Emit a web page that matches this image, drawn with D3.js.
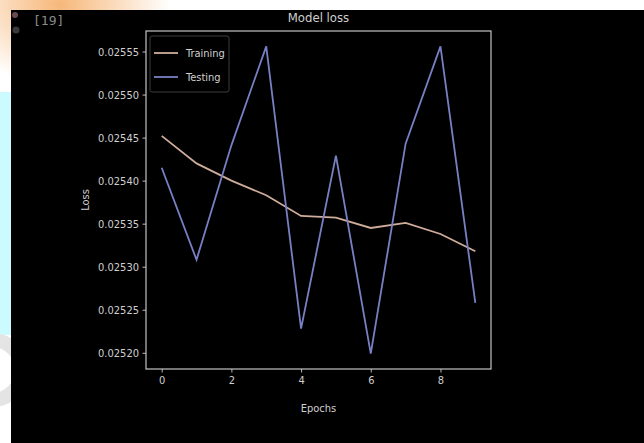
<!DOCTYPE html>
<html>
<head>
<meta charset="utf-8">
<script src="https://cdn.jsdelivr.net/npm/d3@7"></script>
<style>
  html, body { margin: 0; padding: 0; background: #000; }
  svg { display: block; }
  text { font-family: "DejaVu Sans Condensed", "Liberation Sans Narrow", "DejaVu Sans", sans-serif; }
</style>
</head>
<body>
<svg id="chart" width="644" height="443"></svg>
<script>
// ---- data ----
const epochs = [0, 1, 2, 3, 4, 5, 6, 7, 8, 9];
const trainingLoss = [0.025452, 0.025420, 0.025400, 0.025383, 0.025359, 0.025357, 0.025345, 0.025351, 0.025338, 0.025318];
const testingLoss  = [0.025415, 0.025308, 0.025441, 0.025556, 0.025228, 0.025429, 0.025199, 0.025443, 0.025556, 0.025258];
const seriesNames = ["Training", "Testing"];
const xTicks = [0, 2, 4, 6, 8];
const yTicks = [0.02520, 0.02525, 0.02530, 0.02535, 0.02540, 0.02545, 0.02550, 0.02555];
const titleText = "Model loss";
const xLabel = "Epochs";
const yLabel = "Loss";
const cellLabel = "[19]";

// ---- layout ----
const svg = d3.select("#chart");
const W = 644, H = 443;
const plot = { left: 146, right: 491, top: 31, bottom: 369 };
const colors = { Training: "#cfad9b", Testing: "#7880c4" };
const fg = "#cfcfcf";

// notebook surroundings
const defs = svg.append("defs");
const rg = defs.append("radialGradient").attr("id", "orangeBlob").attr("cx", "0.5").attr("cy", "0.5").attr("r", "0.5");
rg.append("stop").attr("offset", "0%").attr("stop-color", "#f6b77a");
rg.append("stop").attr("offset", "100%").attr("stop-color", "#ffffff");
svg.append("rect").attr("x", 0).attr("y", 0).attr("width", W).attr("height", H).attr("fill", "#ffffff");
svg.append("ellipse").attr("cx", 60).attr("cy", 5).attr("rx", 110).attr("ry", 80).attr("fill", "url(#orangeBlob)");
svg.append("rect").attr("x", 0).attr("y", 92).attr("width", 11).attr("height", 243).attr("fill", "#ccfbff");
svg.append("circle").attr("cx", -8).attr("cy", 370).attr("r", 30).attr("fill", "none").attr("stroke", "#e4e4e4").attr("stroke-width", 14);
svg.append("rect").attr("x", 11).attr("y", 10).attr("width", W - 11).attr("height", H - 10).attr("fill", "#000");

// cell prompt
svg.append("circle").attr("cx", 15).attr("cy", 15).attr("r", 3).attr("fill", "#6a4a50");
svg.append("circle").attr("cx", 16).attr("cy", 30).attr("r", 3.5).attr("fill", "#3a3a3a");
svg.append("text").attr("x", 33).attr("y", 25).attr("fill", "#8a8a8a")
  .style("font-family", "'DejaVu Sans Mono', monospace").style("font-size", "13px").text(cellLabel);

// ---- scales ----
const x = d3.scaleLinear().domain([-0.45, 9.45]).range([plot.left, plot.right]);
const all = trainingLoss.concat(testingLoss);
const lo = d3.min(all), hi = d3.max(all), m = (hi - lo) * 0.05;
const y = d3.scaleLinear().domain([lo - m, hi + m]).range([plot.bottom, plot.top]);

// axes
const yAxis = svg.append("g").attr("transform", `translate(${plot.left},0)`)
  .call(d3.axisLeft(y).tickValues(yTicks).tickFormat(d3.format(".5f")).tickSize(3.5).tickPadding(3.5));
const xAxis = svg.append("g").attr("transform", `translate(0,${plot.bottom})`)
  .call(d3.axisBottom(x).tickValues(xTicks).tickFormat(d3.format("d")).tickSize(3.5).tickPadding(3.5));
[xAxis, yAxis].forEach(a => {
  a.select(".domain").remove();
  a.selectAll(".tick line").attr("stroke", fg).attr("stroke-width", 0.9);
  a.selectAll(".tick text").attr("fill", fg).style("font-size", "11px");
});

// lines
const line = d3.line().x((d, i) => x(epochs[i])).y(d => y(d));
svg.append("path").datum(trainingLoss).attr("d", line).attr("fill", "none")
  .attr("stroke", colors.Training).attr("stroke-width", 1.8);
svg.append("path").datum(testingLoss).attr("d", line).attr("fill", "none")
  .attr("stroke", colors.Testing).attr("stroke-width", 1.8);

// frame
svg.append("rect").attr("x", plot.left).attr("y", plot.top)
  .attr("width", plot.right - plot.left).attr("height", plot.bottom - plot.top)
  .attr("fill", "none").attr("stroke", "#c4c4c4").attr("stroke-width", 1.2);

// titles
svg.append("text").attr("x", (plot.left + plot.right) / 2).attr("y", 22)
  .attr("text-anchor", "middle").attr("fill", fg).style("font-size", "13px").text(titleText);
svg.append("text").attr("x", (plot.left + plot.right) / 2).attr("y", 412)
  .attr("text-anchor", "middle").attr("fill", fg).style("font-size", "11px").text(xLabel);
svg.append("text").attr("transform", `translate(89,${(plot.top + plot.bottom) / 2}) rotate(-90)`)
  .attr("text-anchor", "middle").attr("fill", fg).style("font-size", "11px").text(yLabel);

// legend
const lg = svg.append("g").attr("transform", `translate(${plot.left + 4},${plot.top + 5})`);
lg.append("rect").attr("x", 0).attr("y", 0).attr("width", 79).attr("height", 56).attr("rx", 2)
  .attr("fill", "#000").attr("stroke", "#3c3c3c").attr("stroke-width", 1);
seriesNames.forEach((name, i) => {
  const yy = 17 + i * 24;
  lg.append("line").attr("x1", 4).attr("x2", 28).attr("y1", yy).attr("y2", yy)
    .attr("stroke", colors[name]).attr("stroke-width", 1.8);
  lg.append("text").attr("x", 36).attr("y", yy + 4).attr("fill", fg).style("font-size", "11px").text(name);
});
</script>
</body>
</html>
